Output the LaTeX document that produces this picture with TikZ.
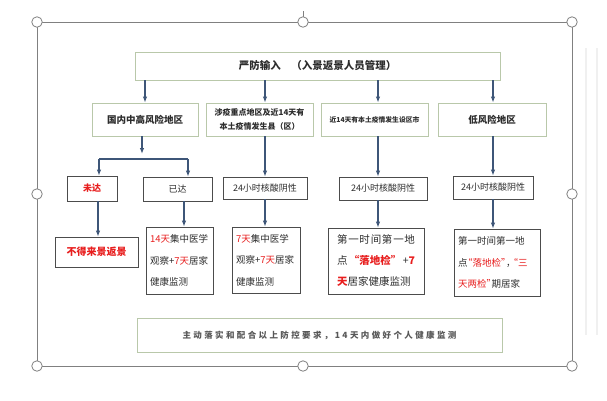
\documentclass[tikz,border=0pt]{standalone}
\usepackage{fontspec}
\setmainfont{Noto Sans CJK SC}
\newfontfamily\widefont{Noto Sans CJK SC}[LetterSpace=28]
\usepackage{tikz}
\usetikzlibrary{calc}
\usetikzlibrary{arrows.meta}
\usepackage{xcolor}
\definecolor{framegray}{RGB}{128,128,128}
\definecolor{sage}{RGB}{185,200,170}
\definecolor{arrowblue}{RGB}{62,86,120}
\definecolor{alertred}{RGB}{232,30,30}
\definecolor{inkgray}{RGB}{45,45,45}

\newcommand{\rd}[1]{\textcolor{alertred}{#1}}
\newcommand{\qo}{\makebox[5pt][r]{“}}
\newcommand{\qc}{\makebox[5pt][l]{”}}

\begin{document}
\begin{tikzpicture}[x=1pt,y=-1pt,
  greenbox/.style={draw=sage,line width=0.9pt,fill=white,text=inkgray,inner sep=0pt},
  darkbox/.style={draw=inkgray!85,line width=0.8pt,fill=white,text=inkgray,inner sep=0pt},
  arr/.style={-{Latex[length=6pt,width=4.5pt]},draw=arrowblue,line width=1.1pt},
  handle/.style={circle,draw=framegray,fill=white,line width=0.8pt,minimum size=10.5pt,inner sep=0pt}]

\useasboundingbox (0,0) rectangle (607,400);

\draw[gray!12, line width=1.2pt] (586,48) -- (586,335);
\draw[gray!12, line width=1.2pt] (597,48) -- (597,335);

\draw[framegray, line width=0.9pt] (37,22) rectangle (572,366);
\draw[framegray, line width=0.8pt] (303,11) -- (303,17);

\foreach \x/\y [count=\i] in {37/22,303/22,572/22,37/194,572/194,37/366,303/366,572/366}
  \node[handle] (hd\i) at (\x,\y) {};

\node[greenbox, minimum width=365pt, minimum height=28pt, font=\fontsize{10.5}{12}\selectfont\bfseries] (yanfang) at (317.5,66) {严防输入\quad（入景返景人员管理）};

\node[greenbox, minimum width=106pt, minimum height=33pt, font=\fontsize{9.5}{11}\selectfont\bfseries] (gaofx) at (145,119.5) {国内中高风险地区};
\node[greenbox, minimum width=107pt, minimum height=33pt, align=center, font=\fontsize{8}{14}\selectfont\bfseries] (sheyi) at (259.5,119.5) {涉疫重点地区及近14天有\\本土疫情发生县（区）};
\node[greenbox, minimum width=107pt, minimum height=33pt, font=\fontsize{6.8}{8}\selectfont\bfseries] (jin14) at (374.5,119.5) {近14天有本土疫情发生设区市};
\node[greenbox, minimum width=108pt, minimum height=33pt, font=\fontsize{9.5}{11}\selectfont\bfseries] (difx) at (492,119.5) {低风险地区};

\coordinate (col2) at (265,0);
\coordinate (col3) at (378,0);
\coordinate (col4) at (493,0);
\coordinate (fork) at (142,154);
\coordinate (forkL) at (99,159);
\coordinate (forkR) at (188,159);

\node[darkbox, minimum width=50pt, minimum height=25pt, font=\fontsize{9}{11}\selectfont\bfseries, text=alertred] (weida) at (92,188.5) {未达};
\node[darkbox, minimum width=69pt, minimum height=24pt, font=\fontsize{9}{11}\selectfont] (yida) at (177.5,189) {已达};
\node[darkbox, minimum width=84pt, minimum height=22pt, font=\fontsize{9}{11}\selectfont] (yin2) at (265,188) {24小时核酸阴性};
\node[darkbox, minimum width=88pt, minimum height=23pt, font=\fontsize{9}{11}\selectfont] (yin3) at (383,188.5) {24小时核酸阴性};
\node[darkbox, minimum width=80pt, minimum height=23pt, font=\fontsize{9}{11}\selectfont] (yin4) at (493,187.5) {24小时核酸阴性};

\node[darkbox, minimum width=83pt, minimum height=30pt, font=\fontsize{10}{12}\selectfont\bfseries, text=alertred] (bude) at (96.5,252) {不得来景返景};

\node[darkbox, inner xsep=4pt, text width=59pt, minimum height=67pt, align=left, font=\fontsize{9.5}{21.5}\selectfont] (jz1) at (179.5,260.5) {\rd{14天}集中医学\\观察+\rd{7天}居家\\健康监测};
\node[darkbox, inner xsep=4pt, text width=60pt, minimum height=66pt, align=left, font=\fontsize{9.5}{21.5}\selectfont] (jz2) at (266,260) {\rd{7天}集中医学\\观察+\rd{7天}居家\\健康监测};
\node[darkbox, inner xsep=9pt, text width=78pt, minimum height=66pt, align=left, font=\fontsize{10.5}{21}\selectfont] (jz3) at (376,261) {\makebox[78pt][s]{第\hfill 一\hfill 时\hfill 间\hfill 第\hfill 一\hfill 地}\\\makebox[78pt][s]{点\hfill\rd{\bfseries\qo 落地检\qc}\hfill +\rd{\bfseries 7}}\\\rd{\bfseries 天}居家健康监测};
\node[darkbox, inner xsep=4pt, text width=78pt, minimum height=67pt, align=left, font=\fontsize{9.5}{21.5}\selectfont] (jz4) at (497,262.5) {第一时间第一地\\点\rd{\qo 落地检\qc}\makebox[7pt][l]{，}\rd{\qo 三}\\\rd{天两检\qc}期居家};

\node[greenbox, minimum width=365pt, minimum height=34pt, font=\widefont\fontsize{8.5}{10}\selectfont\bfseries, text=inkgray!80] (zhudong) at (319.5,335) {主动落实和配合以上防控要求，14天内做好个人健康监测};

\draw[arr] (yanfang.south -| gaofx) -- (gaofx.north);
\draw[arr] (yanfang.south -| col2) -- (sheyi.north -| col2);
\draw[arr] (yanfang.south -| col3) -- (jin14.north -| col3);
\draw[arr] (yanfang.south -| col4) -- (difx.north -| col4);

\draw[arr] (gaofx.south -| fork) -- (fork);
\draw[arrowblue, line width=1.1pt] (forkL) -- (forkR);
\draw[arr] (forkL) -- (forkL |- weida.north);
\draw[arr] (forkR) -- (forkR |- yida.north);

\draw[arr] (sheyi.south -| col2) -- (yin2.north -| col2);
\draw[arr] (jin14.south -| col3) -- (yin3.north -| col3);
\draw[arr] (difx.south -| col4) -- (yin4.north -| col4);

\draw[arr] (weida.south -| 98,0) -- (bude.north -| 98,0);
\draw[arr] (yida.south -| 184,0) -- (jz1.north -| 184,0);
\draw[arr] (yin2.south -| col2) -- (jz2.north -| col2);
\draw[arr] (yin3.south -| col3) -- (jz3.north -| col3);
\draw[arr] (yin4.south -| col4) -- (jz4.north -| col4);
\end{tikzpicture}
\end{document}
